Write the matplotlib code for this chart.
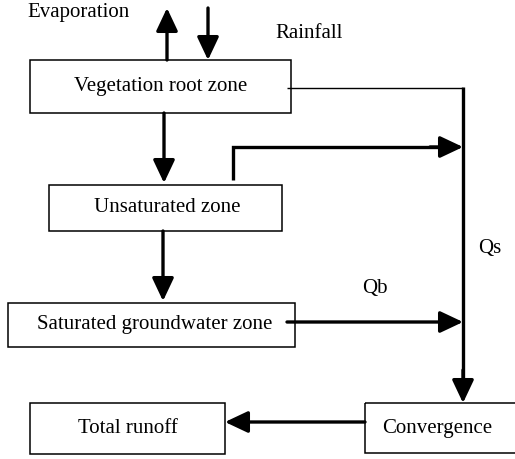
import matplotlib.pyplot as plt
from matplotlib.patches import Rectangle

# box labels and their frames (x0, y0, x1, y1) in pixel space, y down
box_labels = ["Vegetation root zone", "Unsaturated zone", "Saturated groundwater zone",
              "Total runoff", "Convergence"]
box_frames = [(30, 60, 291, 113), (49, 185, 282, 231), (8, 303, 295, 347),
              (30, 403, 225, 454), (365, 403, 540, 453)]
box_text_x = [161, 167, 155, 128, 437]

# free labels
free_labels = ["Evaporation", "Rainfall", "Qs", "Qb"]
free_pos = [(27, 12), (275, 33), (478, 248), (362, 288)]

FONT = ["Liberation Serif", "DejaVu Serif"]
FS = 15
QS_X = 463

fig = plt.figure(figsize=(5.15, 4.59), dpi=100)
ax = fig.add_axes([0, 0, 1, 1])
ax.set_xlim(0, 515)
ax.set_ylim(459, 0)
ax.axis("off")

for label, (x0, y0, x1, y1), tx in zip(box_labels, box_frames, box_text_x):
    ax.add_patch(Rectangle((x0, y0), x1 - x0, y1 - y0, fill=False, ec="black", lw=1.1))
    ax.text(tx, (y0 + y1) / 2, label, ha="center", va="center", fontsize=FS, family=FONT)

for label, (x, y) in zip(free_labels, free_pos):
    ax.text(x, y, label, ha="left", va="center", fontsize=FS, family=FONT)


def arrow(x0, y0, x1, y1):
    ax.annotate("", xy=(x1, y1), xytext=(x0, y0),
                arrowprops=dict(arrowstyle="-|>,head_length=0.7,head_width=0.33",
                                mutation_scale=20, lw=2.4, color="black",
                                shrinkA=0, shrinkB=0))


# evaporation / rainfall
arrow(167, 60, 167, 8)
arrow(208, 8, 208, 60)
# vertical chain
arrow(164, 113, 164, 183)
arrow(163, 231, 163, 301)
# vegetation -> Qs line (thin) and the trunk (thick)
ax.plot([287, QS_X], [88, 88], color="black", lw=1.0, solid_capstyle="butt")
ax.plot([QS_X, QS_X], [87, 380], color="black", lw=2.4, solid_capstyle="butt")
arrow(QS_X, 370, QS_X, 403)
# unsaturated -> Qs
ax.plot([233, 233, 440], [180, 147, 147], color="black", lw=2.4,
        solid_capstyle="butt", solid_joinstyle="miter")
arrow(430, 147, QS_X, 147)
# saturated -> Qs
arrow(287, 322, QS_X, 322)
# convergence -> total runoff
arrow(365, 422, 225, 422)

fig.savefig("out.png", dpi=100)
